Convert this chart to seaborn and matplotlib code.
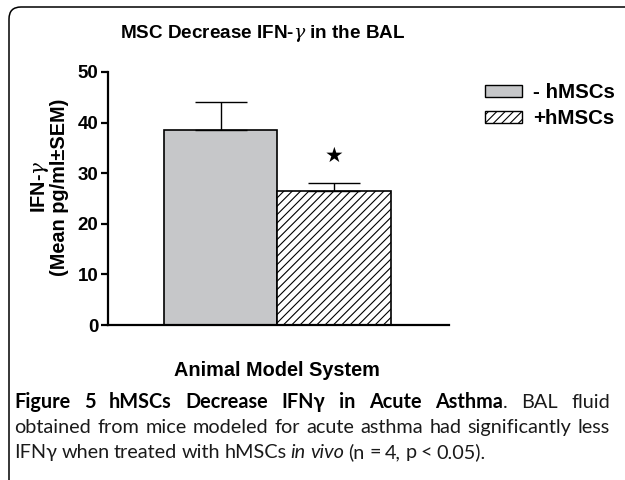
import matplotlib
matplotlib.use("Agg")
import matplotlib.pyplot as plt
from matplotlib.patches import Patch, FancyBboxPatch
import seaborn as sns
import pandas as pd

# ---- data ----
groups = ["- hMSCs", "+hMSCs"]
means = [38.5, 26.5]
sems = [5.5, 1.6]
star_level = 33.5
yticks = [0, 10, 20, 30, 40, 50]
title = "MSC Decrease IFN-$\\gamma$ in the BAL"
xlabel = "Animal Model System"
ylabel = "IFN-$\\gamma$\n(Mean pg/ml\u00b1SEM)"
caption_lines = [
    [[("Figure", "b")], [("5", "b")], [("hMSCs", "b")], [("Decrease", "b")], [("IFN\u03b3", "b")],
     [("in", "b")], [("Acute", "b")], [("Asthma", "b"), (".", "n")], [("BAL", "n")], [("fluid", "n")]],
    [[(w, "n")] for w in "obtained from mice modeled for acute asthma had significantly less".split()],
    [[(w, "n")] for w in "IFN\u03b3 when treated with hMSCs".split()]
    + [[("in", "i")], [("vivo", "i")]]
    + [[(w, "n")] for w in "(n = 4, p < 0.05).".split()],
]

sns.set_theme(style="white")
plt.rcParams["font.family"] = ["Liberation Sans", "DejaVu Sans"]
plt.rcParams["mathtext.fontset"] = "dejavuserif"
plt.rcParams["hatch.linewidth"] = 0.8
for k in ["text.color", "axes.labelcolor", "xtick.color", "ytick.color"]:
    plt.rcParams[k] = "black"

W, H = 625, 480
fig = plt.figure(figsize=(W / 100, H / 100), dpi=100)
ax = fig.add_axes([108 / W, 1 - 325 / H, (449 - 108) / W, (325 - 72) / H])

df = pd.DataFrame({"group": groups, "mean": means})
sns.barplot(data=df, x="group", y="mean", hue="group", palette=["#c6c7c9", "white"],
            width=1.0, edgecolor="black", linewidth=1.2, legend=False, ax=ax, errorbar=None)
bars = ax.patches
bars[1].set_hatch("////")

ax.errorbar(x=[0, 1], y=means, yerr=[[0, 0], sems], fmt="none", ecolor="black",
            elinewidth=1.0, capsize=19, capthick=1.0, zorder=3)
ax.text(1, star_level, "\u2605", ha="center", va="center", fontsize=15,
        family=["DejaVu Sans"], color="black")

ax.set_xlim(-0.99, 2.01)
ax.set_ylim(0, 50)
ax.set_yticks(yticks)
ax.set_yticklabels([str(t) for t in yticks], fontweight="bold", fontsize=13.5)
ax.set_xticks([])
ax.set_xlabel("")
ax.set_ylabel("")
for s in ["top", "right"]:
    ax.spines[s].set_visible(False)
for s in ["left", "bottom"]:
    ax.spines[s].set_linewidth(1.6)
    ax.spines[s].set_color("black")
ax.tick_params(axis="y", direction="out", length=5, width=1.6, color="black", pad=2, left=True)

fig.text(263 / W, 1 - 33 / H, title, ha="center", va="center", fontsize=13.6, fontweight="bold")
fig.text(277 / W, 1 - 370 / H, xlabel, ha="center", va="center", fontsize=14.3, fontweight="bold")
fig.text(49 / W, 1 - 187 / H, ylabel, ha="center", va="center", rotation=90,
         fontsize=14.3, fontweight="bold", linespacing=0.95)

handles = [Patch(facecolor="#c6c7c9", edgecolor="black", linewidth=1.0),
           Patch(facecolor="white", edgecolor="black", hatch="////", linewidth=1.0)]
leg = fig.legend(handles, groups, loc="upper left", bbox_to_anchor=(466 / W, 1 - 65 / H),
                 frameon=False, prop={"weight": "bold", "size": 14.8, "family": "Liberation Sans"},
                 handlelength=1.8, handleheight=0.53, handletextpad=0.55, labelspacing=0.32,
                 borderpad=0.4)

# frame
frame = FancyBboxPatch((0.09, -0.2), 6.5, 4.73 + 0.2, boxstyle="round,pad=0,rounding_size=0.12",
                       transform=fig.dpi_scale_trans, fill=False, edgecolor="black",
                       linewidth=1.1, clip_on=False)
fig.add_artist(frame)

# caption with justification
cap_font = "Lato"
styles = {"b": dict(fontweight="bold", color="black"),
          "n": dict(fontweight="normal", color="#1a1a1a"),
          "i": dict(fontweight="normal", style="italic", color="#1a1a1a")}
fig.canvas.draw()
renderer = fig.canvas.get_renderer()


def measure(s, key, size):
    t = fig.text(0, 0, s, family=cap_font, fontsize=size, **styles[key])
    w = t.get_window_extent(renderer).width
    t.remove()
    return w


def natural_width(line, size):
    sp = measure("a a", "n", size) - measure("aa", "n", size)
    return sum(measure(s, k, size) for word in line for s, k in word) + sp * (len(line) - 1)


# size so that the second (tightly set) line nearly fills the width
base = 10.0
cap_size = base * 588 / natural_width(caption_lines[1], base)

space_w = measure("a a", "n", cap_size) - measure("aa", "n", cap_size)
x0, x1 = 14, 610
baselines = [408, 433, 458]
for li, (line, yb) in enumerate(zip(caption_lines, baselines)):
    widths = [[measure(s, k, cap_size) for s, k in word] for word in line]
    total = sum(sum(w) for w in widths)
    if li < len(caption_lines) - 1:
        gap = (x1 - x0 - total) / (len(line) - 1)
    else:
        gap = space_w * 0.85
    x = x0
    for word, ws in zip(line, widths):
        for (s, k), w in zip(word, ws):
            fig.text(x / W, 1 - yb / H, s, family=cap_font, fontsize=cap_size,
                     va="baseline", ha="left", **styles[k])
            x += w
        x += gap

fig.savefig("out.png", dpi=100)
